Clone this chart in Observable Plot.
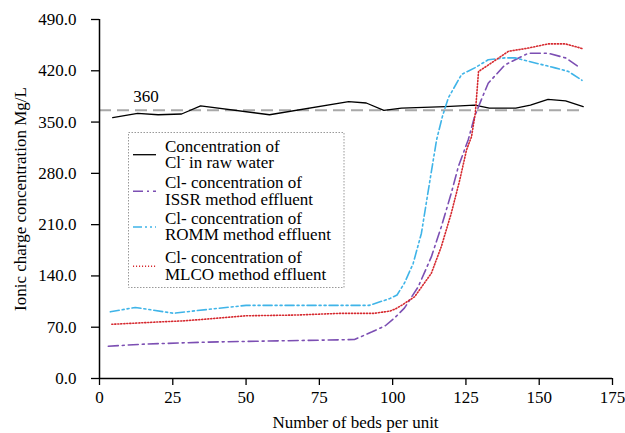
<!DOCTYPE html>
<html><head><meta charset="utf-8">
<script src="https://cdn.jsdelivr.net/npm/d3@7"></script>
<script src="https://cdn.jsdelivr.net/npm/@observablehq/plot@0.6"></script>
<style>
body{margin:0;background:#fff}
svg, svg text, svg tspan{font-family:"Liberation Serif","Times New Roman",serif !important}
</style>
</head><body><div id="chart"></div>
<script>
// ---- data ----
const xTicks = [0, 25, 50, 75, 100, 125, 150, 175];
const yTicks = [0, 70, 140, 210, 280, 350, 420, 490];
const xLabel = "Number of beds per unit";
const yLabel = "Ionic charge concentration Mg/L";
const refValue = 366;
const refLabel = "360";
const refEnd = 165;

const rawX = [4.5, 13, 20, 28, 34.5, 58, 85, 91, 97, 103, 118, 128, 133, 142, 147, 153, 159, 165];
const rawY = [356, 362, 360, 361, 372, 360, 378, 376, 366, 369, 371, 373, 369, 369, 373, 381, 379, 371];

const issrX = [3, 15.5, 36, 61, 82, 87, 93, 97.5, 101, 104, 108.7, 113.2, 116.6, 120, 122.4, 125.8, 128, 130.3, 132.6, 138.3, 146.3, 153, 159, 164];
const issrY = [44, 47, 49.6, 51.4, 52.8, 53.3, 63.7, 72, 84, 96, 125, 166, 207, 253, 289, 326, 358, 381, 403, 428, 444, 444, 437.6, 424];

const rommX = [3.7, 12.2, 25.3, 32.8, 50, 92, 99, 101.5, 104, 107, 109.8, 112.3, 115, 117, 119, 123.5, 128, 132.6, 138.3, 141.7, 146.3, 155.4, 160, 164.6];
const rommY = [91, 97, 89, 92.5, 99.8, 99.8, 109, 114, 130, 157, 198, 260, 326, 358, 383, 415, 424, 435, 437.6, 437.6, 433, 424, 419, 407];

const mlcoX = [4.2, 21.4, 29.3, 50, 67, 82, 93.5, 99, 101, 103.5, 107.5, 113.2, 116.6, 120, 122.9, 125.2, 126.9, 128.2, 129.3, 133.8, 139.5, 146.3, 153, 159, 165];
const mlcoY = [74, 77.4, 78.8, 85.6, 86.6, 88.9, 88.9, 92, 95, 101, 111.6, 143.6, 180, 225.6, 271, 312, 330, 362, 419, 431, 446.6, 451, 456.7, 456.7, 450];

const seriesNames = [
  ["Concentration of", "Cl|- in raw water"],
  ["Cl- concentration of", "ISSR method effluent"],
  ["Cl- concentration of", "ROMM method effluent"],
  ["Cl- concentration of", "MLCO method effluent"]
];
const seriesColors = ["#000000", "#7c4fb3", "#3fb4e8", "#d62a30"];
const seriesDash = [null, "10,4,2,4", "9,3,2,3,2,3", "1.1,1.9"];
const seriesWidth = [1.3, 1.6, 1.6, 1.6];

// ---- build ----
const FONT = "'Liberation Serif', 'Times New Roman', serif";
const toPts = (xs, ys) => xs.map((x, i) => ({x, y: ys[i]}));
const series = [toPts(rawX, rawY), toPts(issrX, issrY), toPts(rommX, rommY), toPts(mlcoX, mlcoY)];

const lineMarks = series.map((pts, i) => Plot.line(pts, {
  x: "x", y: "y", stroke: seriesColors[i], strokeWidth: seriesWidth[i],
  strokeDasharray: seriesDash[i] || undefined
}));

const chart = Plot.plot({
  width: 625, height: 433,
  marginLeft: 99, marginRight: 13, marginTop: 19, marginBottom: 55,
  style: {fontSize: "17px", color: "#000", background: "#fff"},
  x: {domain: [0, 175]},
  y: {domain: [0, 490]},
  marks: [
    Plot.ruleY([refValue], {x1: () => 0, x2: () => refEnd, stroke: "#a8a8a8", strokeWidth: 2, strokeDasharray: "12,6"}),
    Plot.text([refLabel], {x: () => 11.5, y: () => refValue, text: d => d, dy: -14, textAnchor: "start", fontSize: 17}),
    ...lineMarks,
    Plot.axisX({ticks: xTicks, tickSize: 7, tickPadding: 5, strokeWidth: 1.3, label: null, fontSize: 17}),
    Plot.axisY({ticks: yTicks, tickSize: 8, tickPadding: 15, strokeWidth: 1.3, tickFormat: d3.format(".1f"), label: null, fontSize: 17}),
    Plot.ruleX([0], {strokeWidth: 1.5}),
    Plot.ruleY([0], {strokeWidth: 1.5})
  ]
});
document.getElementById("chart").appendChild(chart);

// ---- axis titles & legend ----
const svg = d3.select(chart);
svg.append("text").attr("x", 355.5).attr("y", 428).attr("text-anchor", "middle")
  .attr("font-size", 17).attr("fill", "#000").text(xLabel);
svg.append("text").attr("transform", "translate(26,199) rotate(-90)").attr("text-anchor", "middle")
  .attr("font-size", 17).attr("fill", "#000").text(yLabel);

const lg = svg.append("g").attr("text-anchor", "start");
lg.append("rect").attr("x", 128.5).attr("y", 132.5).attr("width", 215.5).attr("height", 155)
  .attr("fill", "#fff").attr("stroke", "#999").attr("stroke-dasharray", "1.5,1.5");
const rowTop = [151.7, 188.3, 224, 263.3];
seriesNames.forEach((lines, i) => {
  const b = rowTop[i];
  lg.append("line").attr("x1", 133).attr("x2", 156).attr("y1", b + 3).attr("y2", b + 3)
    .attr("stroke", seriesColors[i]).attr("stroke-width", seriesWidth[i])
    .attr("stroke-dasharray", seriesDash[i]);
  lines.forEach((t, j) => {
    const tx = lg.append("text").attr("x", 165).attr("y", b + j * 16.3)
      .attr("text-anchor", "start").attr("font-size", 17).attr("fill", "#000");
    if (t.includes("|")) {
      const [a, rest] = t.split("|");
      tx.append("tspan").text(a);
      tx.append("tspan").attr("dy", -6).attr("font-size", 11).text(rest[0]);
      tx.append("tspan").attr("dy", 6).text(rest.slice(1));
    } else tx.text(t);
  });
});
// force serif everywhere
chart.style.setProperty("font-family", FONT, "important");
chart.querySelectorAll("g, text, tspan").forEach(el => el.style.setProperty("font-family", FONT, "important"));
</script>
</body></html>
